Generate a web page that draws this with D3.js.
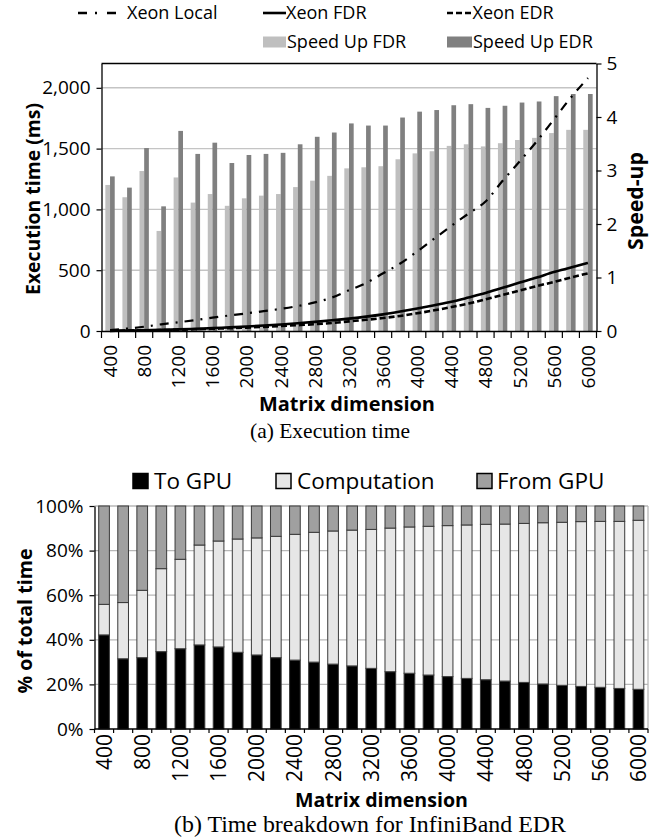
<!DOCTYPE html>
<html>
<head>
<meta charset="utf-8">
<script src="https://cdn.jsdelivr.net/npm/d3@7/dist/d3.min.js"></script>
<style>
  body { margin: 0; background: #fff; }
  text { font-family: 'Open Sans', sans-serif; fill: #000; }
  .serif { font-family: 'Liberation Serif', 'Times New Roman', serif; }
</style>
</head>
<body>
<svg id="chart" width="662" height="837"></svg>
<script>
// ---- data ----
const dims = [400, 600, 800, 1000, 1200, 1400, 1600, 1800, 2000, 2200, 2400, 2600, 2800, 3000, 3200,
              3400, 3600, 3800, 4000, 4200, 4400, 4600, 4800, 5000, 5200, 5400, 5600, 5800, 6000];

// (a) execution time, ms (left axis)
const xeonLocal = [8, 20, 35, 55, 72, 90, 110, 128, 145, 163, 182, 205, 235, 275, 335,
                   395, 475, 555, 655, 760, 865, 965, 1065, 1235, 1395, 1560, 1740, 1920, 2080];
const xeonFDR = [2, 4, 6, 9, 13, 18, 24, 30, 37, 45, 54, 64, 75, 88, 102,
                 118, 137, 160, 185, 212, 240, 275, 312, 355, 398, 440, 485, 522, 560];
const xeonEDR = [1, 3, 5, 7, 10, 14, 18, 23, 28, 34, 41, 48, 56, 66, 79,
                 92, 107, 124, 146, 170, 197, 226, 260, 296, 333, 370, 403, 440, 474];

// (a) speed-up (right axis)
const speedFDR = [2.73, 2.50, 2.99, 1.87, 2.87, 2.40, 2.56, 2.34, 2.48, 2.53, 2.56, 2.69, 2.81, 2.90, 3.04,
                  3.06, 3.08, 3.21, 3.32, 3.36, 3.46, 3.49, 3.45, 3.51, 3.57, 3.61, 3.70, 3.76, 3.76];
const speedEDR = [2.89, 2.68, 3.42, 2.33, 3.74, 3.31, 3.52, 3.14, 3.29, 3.31, 3.33, 3.49, 3.63, 3.71, 3.88,
                  3.84, 3.84, 3.99, 4.10, 4.13, 4.22, 4.24, 4.17, 4.21, 4.27, 4.29, 4.39, 4.43, 4.43];

// (b) breakdown for InfiniBand EDR, % of total
const toGPU = [42.2, 31.5, 32.0, 34.7, 36.0, 37.7, 36.8, 34.4, 33.2, 32.0, 30.9, 30.0, 29.1, 28.3, 27.2,
               25.7, 25.0, 24.2, 23.5, 22.7, 22.1, 21.5, 20.9, 20.2, 19.6, 19.1, 18.7, 18.2, 17.8];
const computation = [13.7, 25.2, 30.2, 37.2, 40.1, 44.8, 47.5, 50.8, 52.5, 54.4, 56.4, 58.2, 59.7, 60.9, 62.3,
                     64.4, 65.6, 66.7, 67.7, 68.8, 69.7, 70.4, 71.3, 72.3, 73.1, 73.9, 74.4, 74.9, 75.8];
const fromGPU = [44.1, 43.3, 37.8, 28.1, 23.9, 17.5, 15.7, 14.8, 14.3, 13.6, 12.7, 11.8, 11.2, 10.8, 10.5,
                 9.9, 9.4, 9.1, 8.8, 8.5, 8.2, 8.1, 7.8, 7.5, 7.3, 7.0, 6.9, 6.9, 6.4];

const msTicks = [0, 500, 1000, 1500, 2000];
const speedTicks = [0, 1, 2, 3, 4, 5];
const pctTicks = [0, 20, 40, 60, 80, 100];
const dimLabels = dims.filter((d, i) => i % 2 === 0);

const svg = d3.select("#chart");

// scale a text's font size so it spans the given width
function fitWidth(sel, width) {
  sel.each(function () {
    const len = this.getComputedTextLength();
    const fs = parseFloat(d3.select(this).attr("font-size"));
    if (len > 0) d3.select(this).attr("font-size", (fs * width / len).toFixed(2));
  });
  return sel;
}

// ================= (a) Execution time =================
const pa = { left: 101.5, right: 596.5, top: 63.5, bottom: 331 };

const x = d3.scaleBand().domain(dims).range([pa.left, pa.right]);
const xPair = d3.scaleBand().domain(["FDR", "EDR"]).range([0, x.bandwidth()]).paddingOuter(0.82);
const yMs = d3.scaleLinear().domain([0, 2200]).range([pa.bottom, pa.top]);
const ySp = d3.scaleLinear().domain([0, 5]).range([pa.bottom, pa.top]);

const ga = svg.append("g").attr("class", "chart-a");

// gridlines
ga.append("g").selectAll("line")
  .data(msTicks.filter(d => d > 0))
  .join("line")
  .attr("x1", pa.left).attr("x2", pa.right)
  .attr("y1", d => yMs(d)).attr("y2", d => yMs(d))
  .attr("stroke", "#c4c4c4").attr("stroke-width", 1.4);

// speed-up bars
const barData = dims.map((d, i) => ({ dim: d, FDR: speedFDR[i], EDR: speedEDR[i] }));
const barColor = { FDR: "#bfbfbf", EDR: "#808080" };
ga.append("g").selectAll("g")
  .data(barData)
  .join("g")
  .attr("transform", d => `translate(${x(d.dim)},0)`)
  .selectAll("rect")
  .data(d => ["FDR", "EDR"].map(k => ({ key: k, v: d[k] })))
  .join("rect")
  .attr("x", d => xPair(d.key))
  .attr("width", xPair.bandwidth())
  .attr("y", d => ySp(d.v))
  .attr("height", d => ySp(0) - ySp(d.v))
  .attr("fill", d => barColor[d.key]);

// time lines
const line = d3.line()
  .x(d => x(d.dim) + x.bandwidth() / 2)
  .y(d => yMs(d.v))
  .curve(d3.curveMonotoneX);

const series = [
  { name: "Xeon Local", values: xeonLocal, dash: "9,7,2,7", width: 2.2 },
  { name: "Xeon FDR", values: xeonFDR, dash: null, width: 2.6 },
  { name: "Xeon EDR", values: xeonEDR, dash: "6,3", width: 2.6 }
];
ga.append("g").selectAll("path")
  .data(series)
  .join("path")
  .attr("d", s => line(s.values.map((v, i) => ({ dim: dims[i], v }))))
  .attr("fill", "none")
  .attr("stroke", "#000")
  .attr("stroke-width", s => s.width)
  .attr("stroke-dasharray", s => s.dash);

// top border
ga.append("line")
  .attr("x1", pa.left).attr("x2", pa.right)
  .attr("y1", pa.top).attr("y2", pa.top)
  .attr("stroke", "#000").attr("stroke-width", 1.3);

// left axis
const axL = ga.append("g")
  .attr("transform", `translate(${pa.left},0)`)
  .call(d3.axisLeft(yMs).tickValues(msTicks).tickFormat(d3.format(",")).tickSize(5).tickSizeOuter(0).tickPadding(6));

// right axis
const axR = ga.append("g")
  .attr("transform", `translate(${pa.right},0)`)
  .call(d3.axisRight(ySp).tickValues(speedTicks).tickFormat(d3.format("d")).tickSize(5).tickSizeOuter(0).tickPadding(5));

// bottom axis
const axB = ga.append("g")
  .attr("transform", `translate(0,${pa.bottom})`)
  .call(d3.axisBottom(x).tickValues(dimLabels).tickSize(0).tickSizeOuter(0).tickPadding(0));
axB.selectAll("text")
  .attr("transform", "rotate(-90)")
  .attr("text-anchor", "end")
  .attr("x", -14).attr("y", 0).attr("dy", "0.36em");
axB.selectAll(".bound")
  .data([...dims.map(d => x(d)), pa.right])
  .join("line")
  .attr("class", "bound")
  .attr("x1", d => d).attr("x2", d => d)
  .attr("y1", 0).attr("y2", 7)
  .attr("stroke", "#000").attr("stroke-width", 1.2);

[axL, axR, axB].forEach(a => {
  a.selectAll("path.domain").attr("stroke", "#000").attr("stroke-width", 1.3);
  a.selectAll(".tick line").attr("stroke", "#000").attr("stroke-width", 1.2);
  a.selectAll("text").attr("font-size", 19).attr("font-family", "'Open Sans', sans-serif");
});

// axis titles
fitWidth(ga.append("text")
  .attr("transform", "translate(33,199) rotate(-90)")
  .attr("text-anchor", "middle").attr("dy", "0.36em")
  .attr("font-size", 18).attr("font-weight", "bold")
  .text("Execution time (ms)"), 192);
fitWidth(ga.append("text")
  .attr("transform", "translate(635,201) rotate(-90)")
  .attr("text-anchor", "middle").attr("dy", "0.36em")
  .attr("font-size", 20).attr("font-weight", "bold")
  .text("Speed-up"), 98);
fitWidth(ga.append("text")
  .attr("x", 347).attr("y", 404).attr("dy", "0.36em")
  .attr("text-anchor", "middle")
  .attr("font-size", 18).attr("font-weight", "bold")
  .text("Matrix dimension"), 176);
fitWidth(ga.append("text")
  .attr("class", "serif")
  .attr("x", 330).attr("y", 438)
  .attr("text-anchor", "middle")
  .attr("font-size", 21)
  .text("(a) Execution time"), 160);

// legend (a)
const legA = [
  { label: "Xeon Local", kind: "line", dash: "9,8,2,10", x: 78, w: 38, tx: 127, y: 13 },
  { label: "Xeon FDR", kind: "line", dash: null, x: 263, w: 23, tx: 286, y: 13 },
  { label: "Xeon EDR", kind: "line", dash: "6,3", x: 447, w: 25, tx: 472.5, y: 13 },
  { label: "Speed Up FDR", kind: "box", fill: barColor.FDR, x: 263, w: 23, tx: 287, y: 42 },
  { label: "Speed Up EDR", kind: "box", fill: barColor.EDR, x: 447, w: 25, tx: 473, y: 42 }
];
const la = ga.append("g").selectAll("g").data(legA).join("g");
la.filter(d => d.kind === "line").append("line")
  .attr("x1", d => d.x).attr("x2", d => d.x + d.w)
  .attr("y1", d => d.y).attr("y2", d => d.y)
  .attr("stroke", "#000").attr("stroke-width", 2.6)
  .attr("stroke-dasharray", d => d.dash);
la.filter(d => d.kind === "box").append("rect")
  .attr("x", d => d.x).attr("width", d => d.w)
  .attr("y", d => d.y - 5.5).attr("height", 11)
  .attr("fill", d => d.fill);
la.append("text")
  .attr("x", d => d.tx).attr("y", d => d.y).attr("dy", "0.36em")
  .attr("font-size", 18)
  .text(d => d.label);

// ================= (b) Time breakdown =================
const pb = { left: 94.5, right: 648, top: 506, bottom: 729 };

const xb = d3.scaleBand().domain(dims).range([pb.left, pb.right]).paddingInner(0.44).paddingOuter(0.22);
const yb = d3.scaleLinear().domain([0, 100]).range([pb.bottom, pb.top]);

const gb = svg.append("g").attr("class", "chart-b");

gb.append("g").selectAll("line")
  .data(pctTicks.filter(d => d > 0))
  .join("line")
  .attr("x1", pb.left).attr("x2", pb.right)
  .attr("y1", d => yb(d)).attr("y2", d => yb(d))
  .attr("stroke", "#b8b8b8").attr("stroke-width", 1.3);
gb.append("line")
  .attr("x1", pb.right).attr("x2", pb.right)
  .attr("y1", pb.top).attr("y2", pb.bottom)
  .attr("stroke", "#b8b8b8").attr("stroke-width", 1.3);

const keys = ["toGPU", "computation", "fromGPU"];
const stackColor = { toGPU: "#000000", computation: "#e6e6e6", fromGPU: "#a0a0a0" };
const rows = dims.map((d, i) => ({ dim: d, toGPU: toGPU[i], computation: computation[i], fromGPU: fromGPU[i] }));
const stacked = d3.stack().keys(keys)(rows);

gb.append("g").selectAll("g")
  .data(stacked)
  .join("g")
  .attr("fill", s => stackColor[s.key])
  .selectAll("rect")
  .data(s => s)
  .join("rect")
  .attr("x", d => xb(d.data.dim))
  .attr("width", xb.bandwidth())
  .attr("y", d => yb(d[1]))
  .attr("height", d => yb(d[0]) - yb(d[1]))
  .attr("stroke", "#3a3a3a").attr("stroke-width", 1);

const bL = gb.append("g")
  .attr("transform", `translate(${pb.left},0)`)
  .call(d3.axisLeft(yb).tickValues(pctTicks).tickFormat(d => d + "%").tickSize(5).tickSizeOuter(0).tickPadding(6));
const bB = gb.append("g")
  .attr("transform", `translate(0,${pb.bottom})`)
  .call(d3.axisBottom(xb).tickValues(dimLabels).tickSize(0).tickSizeOuter(0).tickPadding(0));
bB.select("path.domain").attr("d", `M${pb.left},0H${pb.right}`);
bB.selectAll("text")
  .attr("transform", "rotate(-90)")
  .attr("text-anchor", "end")
  .attr("x", -5).attr("y", 0).attr("dy", "0.36em");
bB.selectAll(".bound")
  .data([...dims.map(d => xb(d) - xb.step() * xb.paddingInner() / 2), pb.right])
  .join("line")
  .attr("class", "bound")
  .attr("x1", d => d).attr("x2", d => d)
  .attr("y1", 0).attr("y2", 4)
  .attr("stroke", "#000").attr("stroke-width", 1.2);

[bL, bB].forEach(a => {
  a.selectAll("path.domain").attr("stroke", "#000").attr("stroke-width", 1.3);
  a.selectAll(".tick line").attr("stroke", "#000").attr("stroke-width", 1.2);
  a.selectAll("text").attr("font-family", "'Open Sans', sans-serif");
});
bL.selectAll("text").attr("font-size", 19);
bB.selectAll("text").attr("font-size", 21);

fitWidth(gb.append("text")
  .attr("transform", "translate(25,621) rotate(-90)")
  .attr("text-anchor", "middle").attr("dy", "0.36em")
  .attr("font-size", 19.5).attr("font-weight", "bold")
  .text("% of total time"), 145);
fitWidth(gb.append("text")
  .attr("x", 381.5).attr("y", 800).attr("dy", "0.36em")
  .attr("text-anchor", "middle")
  .attr("font-size", 18).attr("font-weight", "bold")
  .text("Matrix dimension"), 173);
fitWidth(gb.append("text")
  .attr("class", "serif")
  .attr("x", 370).attr("y", 832)
  .attr("text-anchor", "middle")
  .attr("font-size", 21)
  .text("(b) Time breakdown for InfiniBand EDR"), 392);

// legend (b)
const legB = [
  { label: "To GPU", key: "toGPU", x: 133, tx: 154 },
  { label: "Computation", key: "computation", x: 276, tx: 297 },
  { label: "From GPU", key: "fromGPU", x: 477, tx: 497 }
];
const lb = gb.append("g").selectAll("g").data(legB).join("g");
lb.append("rect")
  .attr("x", d => d.x).attr("y", 473.5).attr("width", 15).attr("height", 15)
  .attr("fill", d => stackColor[d.key])
  .attr("stroke", "#000").attr("stroke-width", 1.5);
lb.append("text")
  .attr("x", d => d.tx).attr("y", 481).attr("dy", "0.36em")
  .attr("font-size", 22.5)
  .text(d => d.label);
</script>
</body>
</html>
